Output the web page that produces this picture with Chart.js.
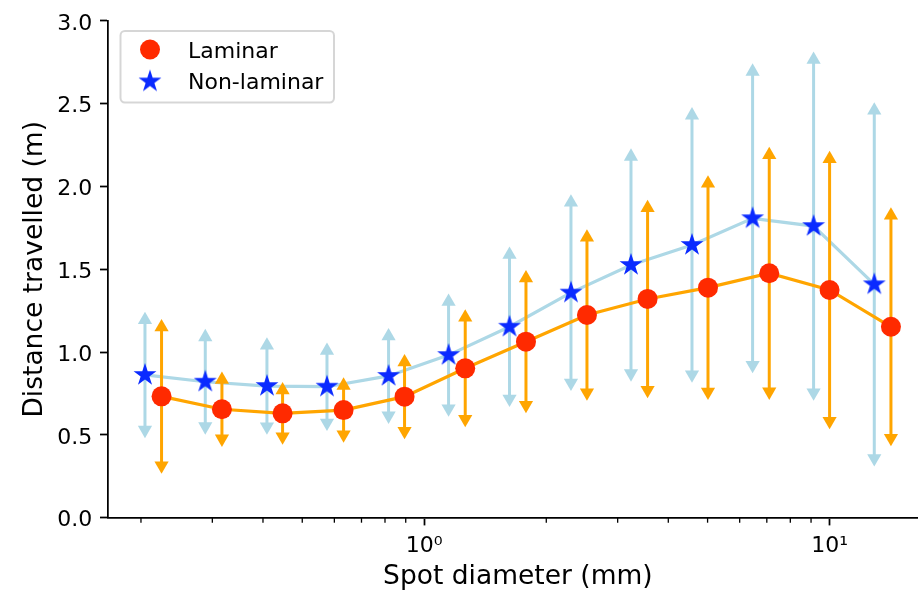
<!DOCTYPE html>
<html><head><meta charset="utf-8">
<script src="https://cdn.jsdelivr.net/npm/chart.js@4.4.1/dist/chart.umd.min.js"></script>
<style>
html,body{margin:0;padding:0;overflow:hidden;background:#fff;width:918px;height:595px}
#wrap{width:918px;height:595px;overflow:hidden;position:relative}
canvas{display:block}
</style></head>
<body><div id="wrap"><canvas id="c" width="928" height="595"></canvas></div>
<script>
// ---- data ----
const nonLaminarDiameter = [0.2046, 0.2882, 0.4091, 0.5754, 0.8164, 1.148, 1.623, 2.301, 3.236, 4.576, 6.457, 9.131, 12.89];
const laminarDiameter    = [0.2248, 0.3168, 0.4471, 0.6323, 0.894, 1.262, 1.782, 2.520, 3.556, 5.012, 7.098, 10.0, 14.17];
const laminarDistance    = [0.733, 0.655, 0.630, 0.650, 0.731, 0.902, 1.063, 1.224, 1.321, 1.389, 1.476, 1.375, 1.153];
const laminarError       = [0.418, 0.178, 0.140, 0.148, 0.208, 0.307, 0.383, 0.468, 0.550, 0.629, 0.715, 0.791, 0.672];
const nonLaminarDistance = [0.862, 0.821, 0.795, 0.791, 0.856, 0.982, 1.153, 1.359, 1.526, 1.647, 1.808, 1.761, 1.409];
const nonLaminarError    = [0.332, 0.270, 0.245, 0.218, 0.240, 0.323, 0.435, 0.545, 0.655, 0.783, 0.886, 1.005, 1.050];
const yTickValues  = [0, 0.5, 1.0, 1.5, 2.0, 2.5, 3.0];
const xMajorTicks  = [1, 10];
const xMinorTicks  = [0.2, 0.3, 0.4, 0.5, 0.6, 0.7, 0.8, 0.9, 2, 3, 4, 5, 6, 7, 8, 9];
const xTickLabels  = {1: '10\u2070', 10: '10\u00B9'};
const legendLabels = ['Laminar', 'Non-laminar'];

// ---- styles ----
const RED = '#ff2a00', ORANGE = '#ffa500', BLUE = '#0a2aff', LIGHTBLUE = '#add8e6';
Chart.defaults.font.family = "'DejaVu Sans', sans-serif";
Chart.defaults.color = '#000';

function makeStar(R, color) {
  const s = Math.ceil(2 * R + 4);
  const c = document.createElement('canvas');
  c.width = s; c.height = s;
  const g = c.getContext('2d');
  g.fillStyle = color;
  g.beginPath();
  const cx = s / 2, cy = s / 2, r = R * 0.381966;
  for (let i = 0; i < 10; i++) {
    const a = -Math.PI / 2 + i * Math.PI / 5;
    const rr = i % 2 ? r : R;
    const px = cx + rr * Math.cos(a), py = cy + rr * Math.sin(a);
    if (i) g.lineTo(px, py); else g.moveTo(px, py);
  }
  g.closePath();
  g.fill();
  return c;
}
const starImg = makeStar(12, BLUE);

function errorBarSets(xs, ys, errs, color, order) {
  return xs.map((x, i) => ({
    label: '_err',
    data: [{x: x, y: ys[i] - errs[i]}, {x: x, y: ys[i] + errs[i]}],
    borderColor: color,
    borderWidth: 3,
    pointStyle: 'triangle',
    pointRadius: 8.2,
    pointHoverRadius: 8.2,
    pointRotation: [180, 0],
    pointBackgroundColor: color,
    pointBorderWidth: 0,
    order: order
  }));
}

const datasets = [
  {
    label: legendLabels[0],
    data: laminarDiameter.map((x, i) => ({x: x, y: laminarDistance[i]})),
    borderColor: ORANGE, borderWidth: 3.2,
    pointStyle: 'circle', pointRadius: 10, pointHoverRadius: 10,
    pointBackgroundColor: RED, pointBorderWidth: 0,
    order: 0
  },
  ...errorBarSets(laminarDiameter, laminarDistance, laminarError, ORANGE, 1),
  {
    label: legendLabels[1],
    data: nonLaminarDiameter.map((x, i) => ({x: x, y: nonLaminarDistance[i]})),
    borderColor: LIGHTBLUE, borderWidth: 3.2,
    pointStyle: starImg, pointRadius: 11, pointHoverRadius: 11,
    pointBackgroundColor: BLUE, pointBorderWidth: 0,
    order: 2
  },
  ...errorBarSets(nonLaminarDiameter, nonLaminarDistance, nonLaminarError, LIGHTBLUE, 3)
];

const minorTickPlugin = {
  id: 'minorTicks',
  afterDraw(chart) {
    const s = chart.scales.x, ctx = chart.ctx;
    ctx.save();
    ctx.strokeStyle = '#000';
    ctx.lineWidth = 1.3;
    xMinorTicks.forEach(v => {
      const px = s.getPixelForValue(v);
      ctx.beginPath();
      ctx.moveTo(px, s.top);
      ctx.lineTo(px, s.top + 5);
      ctx.stroke();
    });
    ctx.restore();
  }
};

const legendPlugin = {
  id: 'boxLegend',
  afterDraw(chart) {
    const ctx = chart.ctx;
    ctx.save();
    ctx.beginPath();
    ctx.roundRect(120.5, 31, 213.5, 71.5, 4.4);
    ctx.fillStyle = 'rgba(255,255,255,0.8)';
    ctx.fill();
    ctx.lineWidth = 2;
    ctx.strokeStyle = 'rgba(204,204,204,0.8)';
    ctx.stroke();
    ctx.fillStyle = RED;
    Chart.helpers.drawPoint(ctx, {pointStyle: 'circle', radius: 10, borderWidth: 0, rotation: 0}, 150, 49.5);
    Chart.helpers.drawPoint(ctx, {pointStyle: starImg, radius: 11, borderWidth: 0, rotation: 0}, 150, 81.5);
    ctx.fillStyle = '#000';
    ctx.font = "22px 'DejaVu Sans'";
    ctx.textBaseline = 'alphabetic';
    ctx.textAlign = 'left';
    ctx.fillText(legendLabels[0], 188, 57.7);
    ctx.fillText(legendLabels[1], 188, 89.4);
    ctx.restore();
  }
};

new Chart(document.getElementById('c'), {
  type: 'line',
  data: {datasets: datasets},
  plugins: [minorTickPlugin, legendPlugin],
  options: {
    responsive: false,
    animation: false,
    events: [],
    layout: {autoPadding: false, padding: {top: 20.9, left: 0, right: 0, bottom: 0}},
    plugins: {legend: {display: false}, tooltip: {enabled: false}},
    elements: {line: {tension: 0}},
    scales: {
      x: {
        type: 'logarithmic',
        min: 0.16556,
        max: 17.49,
        afterBuildTicks: s => {
          s.ticks = [...xMinorTicks, ...xMajorTicks].sort((a, b) => a - b)
            .map(v => ({value: v, major: xMajorTicks.includes(v)}));
        },
        afterFit: s => { s.height = 77.3; },
        ticks: {
          autoSkip: false, maxRotation: 0, minRotation: 0, padding: 7.4,
          font: {size: 22}, color: '#000',
          callback: v => xTickLabels[v] || ''
        },
        grid: {
          display: true, drawOnChartArea: false, drawTicks: true,
          tickLength: 7.7, tickWidth: 1.75,
          tickColor: c => (c.tick && c.tick.major) ? '#000' : 'rgba(0,0,0,0)'
        },
        border: {display: true, color: '#000', width: 1.75},
        title: {display: true, text: 'Spot diameter (mm)', font: {size: 26.5}, color: '#000', padding: {top: 0, bottom: 1.5}}
      },
      y: {
        type: 'linear',
        min: 0, max: 3,
        afterBuildTicks: s => { s.ticks = yTickValues.map(v => ({value: v})); },
        afterFit: s => { s.width = 107.7; },
        ticks: {
          padding: 7.7, labelOffset: 3,
          font: {size: 22}, color: '#000',
          callback: v => Number(v).toFixed(1)
        },
        grid: {
          display: true, drawOnChartArea: false, drawTicks: true,
          tickLength: 7.7, tickWidth: 1.75, tickColor: '#000'
        },
        border: {display: true, color: '#000', width: 1.75},
        title: {display: true, text: 'Distance travelled (m)', font: {size: 26.5}, color: '#000', padding: {top: 19.5, bottom: 0}}
      }
    }
  }
});
</script>
</body></html>
